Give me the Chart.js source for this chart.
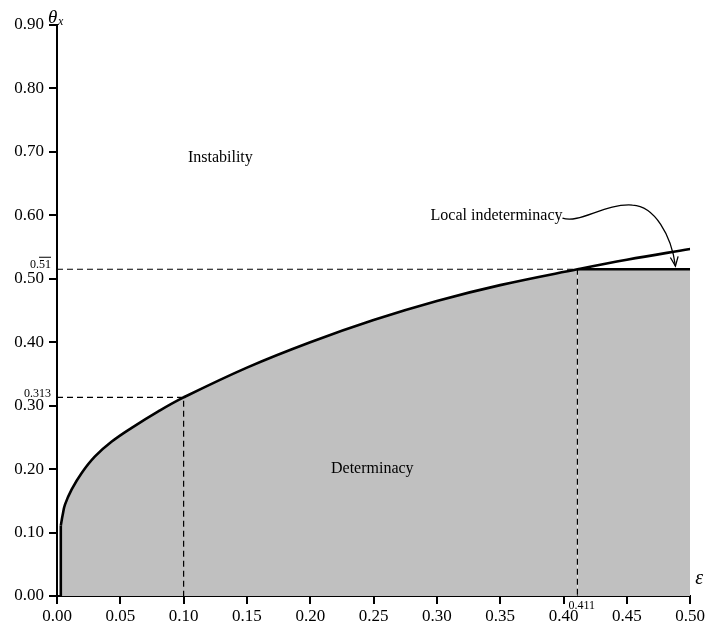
<!DOCTYPE html>
<html lang="en">
<head>
    <meta charset="UTF-8">
    <title>Determinacy regions</title>
    <script src="https://cdn.jsdelivr.net/npm/chart.js@4.4.0/dist/chart.umd.min.js"></script>
    <style>
        body { margin: 0; background: #fff; }
    </style>
</head>
<body>
    <canvas id="chart" width="707" height="628"></canvas>

    <script>
        // boundary curve theta_x(epsilon)
        const curveX = [0.003, 0.0045, 0.0063, 0.0116, 0.0195, 0.030, 0.043, 0.059, 0.08, 0.1, 0.15, 0.2, 0.25, 0.3, 0.35, 0.411, 0.45, 0.5];
        const curveY = [0.111, 0.128, 0.144, 0.168, 0.194, 0.220, 0.243, 0.265, 0.291, 0.313, 0.360, 0.400, 0.435, 0.465, 0.490, 0.515, 0.530, 0.547];

        // vertical start of the boundary
        const stemX = [0.003, 0.003];
        const stemY = [0, 0.111];

        // flat cap of the determinacy region
        const capX = [0.411, 0.5];
        const capY = [0.515, 0.515];

        // dashed guides
        const guide1X = [0, 0.1, 0.1];
        const guide1Y = [0.313, 0.313, 0];
        const guide2X = [0, 0.411, 0.411];
        const guide2Y = [0.515, 0.515, 0];

        const xTicks = [0, 0.05, 0.1, 0.15, 0.2, 0.25, 0.3, 0.35, 0.4, 0.45, 0.5];
        const yTicks = [0, 0.1, 0.2, 0.3, 0.4, 0.5, 0.6, 0.7, 0.8, 0.9];

        const pts = (xs, ys) => xs.map((x, i) => ({ x: x, y: ys[i] }));

        // grey region: under the curve up to the cap, then under the cap
        const fillCurve = pts(curveX, curveY).filter(p => p.x <= capX[0]);
        const fillCap = pts(capX, capY);

        const serif = "'Liberation Serif', 'DejaVu Serif', serif";

        const annotations = {
            id: 'annotations',
            afterDraw(chart) {
                const ctx = chart.ctx;
                const sx = chart.scales.x, sy = chart.scales.y;
                const X = v => sx.getPixelForValue(v);
                const Y = v => sy.getPixelForValue(v);
                ctx.save();
                ctx.fillStyle = '#000';
                ctx.strokeStyle = '#000';

                ctx.font = '16px ' + serif;
                ctx.textAlign = 'center';
                ctx.textBaseline = 'middle';
                ctx.fillText('Instability', X(0.129), Y(0.69));
                ctx.fillText('Determinacy', X(0.249), Y(0.2));
                ctx.textAlign = 'right';
                ctx.fillText('Local indeterminacy', X(0.3992), Y(0.599));

                // wavy arrow to the boundary
                ctx.lineWidth = 1.3;
                ctx.beginPath();
                ctx.moveTo(X(0.3992), Y(0.5957));
                ctx.bezierCurveTo(X(0.4127), Y(0.5863), X(0.4324), Y(0.6194), X(0.4545), Y(0.6162));
                ctx.bezierCurveTo(X(0.4718), Y(0.6147), X(0.4852), Y(0.5689), X(0.4884), Y(0.5200));
                ctx.stroke();
                const tx = X(0.4884), ty = Y(0.5200);
                const ang = Math.atan2(ty - Y(0.5689), tx - X(0.4852));
                ctx.beginPath();
                ctx.moveTo(tx - 10 * Math.cos(ang - 0.4), ty - 10 * Math.sin(ang - 0.4));
                ctx.lineTo(tx, ty);
                ctx.lineTo(tx - 10 * Math.cos(ang + 0.4), ty - 10 * Math.sin(ang + 0.4));
                ctx.stroke();

                // small value labels
                ctx.font = '12px ' + serif;
                ctx.textAlign = 'right';
                ctx.textBaseline = 'alphabetic';
                ctx.fillText('0.313', sx.left - 6, Y(0.313));
                const lx = sx.left - 6, ly = Y(0.515) - 1;
                ctx.fillText('0.51', lx, ly);
                const w51 = ctx.measureText('51').width;
                ctx.lineWidth = 1;
                ctx.beginPath();
                ctx.moveTo(lx - w51, ly - 11);
                ctx.lineTo(lx, ly - 11);
                ctx.stroke();
                ctx.textAlign = 'left';
                ctx.fillText('0.411', X(0.411) - 9, sy.bottom + 13);

                // axis titles
                ctx.font = 'italic 19px ' + serif;
                ctx.fillText('\u03b8', sx.left - 9, 23);
                ctx.font = 'italic 12px ' + serif;
                ctx.fillText('x', sx.left + 1, 25);
                ctx.font = 'italic 20px ' + serif;
                ctx.fillText('\u03b5', sx.right + 5, sy.bottom - 12);
                ctx.restore();
            }
        };

        const line = (data, extra) => Object.assign({
            data: data,
            showLine: true,
            borderColor: '#000',
            borderWidth: 1.2,
            pointRadius: 0,
            fill: false
        }, extra);

        const area = (data, tension) => line(data, {
            borderWidth: 0,
            borderColor: 'rgba(0,0,0,0)',
            backgroundColor: '#c0c0c0',
            fill: 'origin',
            tension: tension
        });

        new Chart(document.getElementById('chart'), {
            type: 'scatter',
            data: {
                datasets: [
                    line(pts(curveX, curveY), { borderWidth: 2.6, tension: 0.4 }),
                    line(pts(stemX, stemY), { borderWidth: 2.6 }),
                    line(pts(capX, capY), { borderWidth: 2.6 }),
                    line(pts(guide1X, guide1Y), { borderDash: [6, 4] }),
                    line(pts(guide2X, guide2Y), { borderDash: [6, 4] }),
                    area(fillCurve, 0.4),
                    area(fillCap, 0)
                ]
            },
            options: {
                responsive: false,
                animation: false,
                layout: { padding: { top: 25, right: 16, left: 0, bottom: 0 } },
                plugins: {
                    legend: { display: false },
                    tooltip: { enabled: false }
                },
                scales: {
                    x: {
                        type: 'linear',
                        min: 0,
                        max: 0.5,
                        afterFit: s => { s.height = 32; },
                        afterBuildTicks: s => { s.ticks = xTicks.map(v => ({ value: v })); },
                        ticks: {
                            color: '#000',
                            padding: 2,
                            maxRotation: 0,
                            font: { family: serif, size: 17 },
                            callback: v => v.toFixed(2)
                        },
                        grid: { drawOnChartArea: false, drawTicks: true, tickLength: 8, color: '#000', lineWidth: 2 },
                        border: { display: true, color: '#000', width: 2 }
                    },
                    y: {
                        type: 'linear',
                        min: 0,
                        max: 0.9,
                        afterFit: s => { s.width = 57; },
                        afterBuildTicks: s => { s.ticks = yTicks.map(v => ({ value: v })); },
                        ticks: {
                            color: '#000',
                            padding: 5,
                            font: { family: serif, size: 17 },
                            callback: v => v.toFixed(2)
                        },
                        grid: { drawOnChartArea: false, drawTicks: true, tickLength: 8, color: '#000', lineWidth: 2 },
                        border: { display: true, color: '#000', width: 2 }
                    }
                }
            },
            plugins: [annotations]
        });
    </script>
</body>
</html>
